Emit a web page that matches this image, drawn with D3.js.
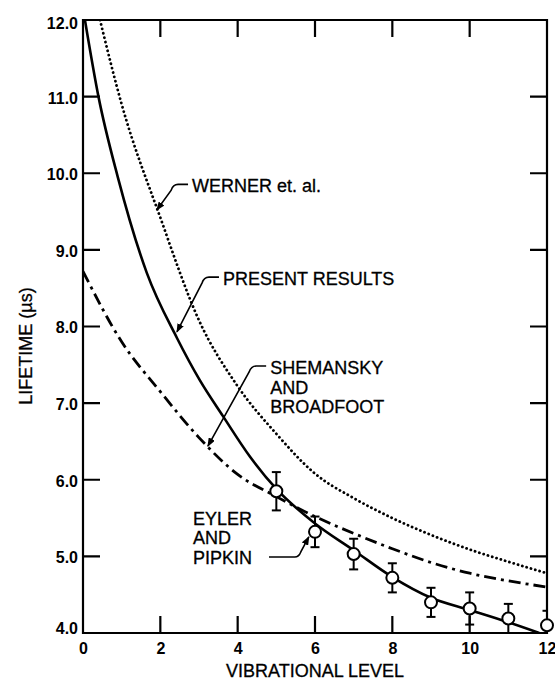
<!DOCTYPE html>
<html>
<head>
<meta charset="utf-8">
<script src="https://cdn.jsdelivr.net/npm/d3@7"></script>
<style>
  body { margin: 0; background: #fff; }
  svg { display: block; font-family: "Liberation Sans", Arial, sans-serif; }
</style>
</head>
<body>
<svg id="chart" width="555" height="683"></svg>
<script>
// values: vibrational level (x) vs lifetime in microseconds (y)
const presentLevels = [0.05, 0.4, 0.9, 1.65, 2.43, 3.02, 3.62, 4.32, 5, 6, 7, 8, 9, 10, 11, 11.8];
const presentLifetimes = [12.0, 11.0, 9.95, 8.7, 7.85, 7.3, 6.83, 6.3, 5.88, 5.43, 5.08, 4.73, 4.46, 4.30, 4.14, 4.0];

const wernerLevels = [0.44, 1, 2, 3, 4, 5, 6, 7, 8, 9, 10, 11, 12];
const wernerLifetimes = [12.0, 10.9, 9.42, 8.08, 7.22, 6.6, 6.08, 5.76, 5.5, 5.28, 5.09, 4.93, 4.78];

const shemanskyLevels = [0, 1, 2, 3, 4, 5, 6, 7, 8, 9, 10, 11, 12];
const shemanskyLifetimes = [8.72, 7.8, 7.15, 6.55, 6.07, 5.78, 5.52, 5.3, 5.1, 4.92, 4.78, 4.68, 4.6];

const eylerLevels = [5, 6, 7, 8, 9, 10, 11, 12];
const eylerLifetimes = [5.85, 5.32, 5.03, 4.72, 4.40, 4.32, 4.19, 4.10];
const eylerErrors = [0.25, 0.2, 0.2, 0.19, 0.19, 0.21, 0.19, 0.19];

const xTicks = [0, 2, 4, 6, 8, 10, 12];
const yTicks = [4, 5, 6, 7, 8, 9, 10, 11, 12];

const svg = d3.select("#chart");
const plotLeft = 83, plotRight = 547, plotTop = 20, plotBottom = 633;
const tickLen = 17;

const x = d3.scaleLinear().domain([0, 12]).range([plotLeft, plotRight]);
const y = d3.scaleLinear().domain([4, 12]).range([plotBottom, plotTop]);

const defs = svg.append("defs");
defs.append("clipPath").attr("id", "plot")
  .append("rect").attr("x", plotLeft).attr("y", plotTop)
  .attr("width", plotRight - plotLeft).attr("height", plotBottom - plotTop);

const marker = defs.append("marker")
  .attr("id", "arrow")
  .attr("markerUnits", "userSpaceOnUse")
  .attr("markerWidth", 9).attr("markerHeight", 7)
  .attr("refX", 8).attr("refY", 3.5)
  .attr("orient", "auto");
marker.append("path").attr("d", "M0,0 L9,3.5 L0,7 Z").attr("fill", "#000");

// --> axis labels (d3 axes); tick marks drawn inward on all four sides below
function styleAxis(g) {
  g.select(".domain").remove();
  g.selectAll(".tick line").remove();
  g.selectAll(".tick text").attr("fill", "#000")
    .attr("font-size", 16).attr("font-weight", "bold")
    .attr("font-family", "'Liberation Sans', Arial, sans-serif");
}

svg.append("g")
  .attr("transform", `translate(0,${plotBottom})`)
  .call(d3.axisBottom(x).tickValues(xTicks).tickSize(0).tickPadding(10).tickFormat(d3.format("d")))
  .call(styleAxis);

const yAxis = svg.append("g")
  .attr("transform", `translate(${plotLeft},0)`)
  .call(d3.axisLeft(y).tickValues(yTicks).tickSize(0).tickPadding(5).tickFormat(d3.format(".1f")))
  .call(styleAxis);
yAxis.selectAll(".tick text").attr("dy", d => d === 4 ? "0em" : d === 12 ? "0.5em" : "0.4em");

// frame and ticks in one path
const frame = d3.path();
frame.rect(plotLeft, plotTop, plotRight - plotLeft, plotBottom - plotTop);
xTicks.forEach(d => {
  frame.moveTo(x(d), plotBottom); frame.lineTo(x(d), plotBottom - tickLen);
  frame.moveTo(x(d), plotTop); frame.lineTo(x(d), plotTop + tickLen);
});
yTicks.forEach(d => {
  frame.moveTo(plotLeft, y(d)); frame.lineTo(plotLeft + tickLen, y(d));
  frame.moveTo(plotRight, y(d)); frame.lineTo(plotRight - tickLen, y(d));
});
svg.append("path")
  .attr("d", frame.toString())
  .attr("fill", "none").attr("stroke", "#000").attr("stroke-width", 2.2);

// axis titles
svg.append("text")
  .attr("x", (plotLeft + plotRight) / 2).attr("y", 677)
  .attr("text-anchor", "middle").attr("font-size", 18)
  .attr("stroke", "#000").attr("stroke-width", 0.3)
  .text("VIBRATIONAL LEVEL");

svg.append("text")
  .attr("transform", "translate(32,346) rotate(-90)")
  .attr("text-anchor", "middle").attr("font-size", 18)
  .attr("stroke", "#000").attr("stroke-width", 0.3)
  .text("LIFETIME (\u00b5s)");

// --> curves
const line = d3.line().x(d => x(d[0])).y(d => y(d[1])).curve(d3.curveMonotoneX);
const curves = svg.append("g").attr("clip-path", "url(#plot)").attr("fill", "none").attr("stroke", "#000");

curves.append("path")
  .attr("d", line(d3.zip(wernerLevels, wernerLifetimes)))
  .attr("stroke-width", 2.8).attr("stroke-linecap", "round")
  .attr("stroke-dasharray", "0.1 4.4");

curves.append("path")
  .attr("d", line(d3.zip(shemanskyLevels, shemanskyLifetimes)))
  .attr("stroke-width", 2.8)
  .attr("stroke-dasharray", "12 5 3 5");

curves.append("path")
  .attr("d", line(d3.zip(presentLevels, presentLifetimes)))
  .attr("stroke-width", 2.6);

// --> Eyler and Pipkin points with error bars
const pts = eylerLevels.map((v, i) => ({ v: v, t: eylerLifetimes[i], e: eylerErrors[i] }));
const bars = svg.append("g").attr("clip-path", "url(#plot)").attr("stroke", "#000").attr("stroke-width", 2);
bars.selectAll("line.bar").data(pts).enter().append("line")
  .attr("class", "bar")
  .attr("x1", d => x(d.v)).attr("x2", d => x(d.v))
  .attr("y1", d => y(d.t + d.e)).attr("y2", d => y(d.t - d.e));
bars.selectAll("line.capTop").data(pts).enter().append("line")
  .attr("class", "capTop")
  .attr("x1", d => x(d.v) - 4.5).attr("x2", d => x(d.v) + 4.5)
  .attr("y1", d => y(d.t + d.e)).attr("y2", d => y(d.t + d.e));
bars.selectAll("line.capBot").data(pts).enter().append("line")
  .attr("class", "capBot")
  .attr("x1", d => x(d.v) - 4.5).attr("x2", d => x(d.v) + 4.5)
  .attr("y1", d => y(d.t - d.e)).attr("y2", d => y(d.t - d.e));

svg.selectAll("circle.pt").data(pts).enter().append("circle")
  .attr("class", "pt")
  .attr("cx", d => x(d.v)).attr("cy", d => y(d.t)).attr("r", 6)
  .attr("fill", "#fff").attr("stroke", "#000").attr("stroke-width", 2);

// --> labels with leader arrows
const notes = [
  { lines: ["WERNER et. al."], at: [2.82, 9.75], tip: [1.91, 9.52], side: "left" },
  { lines: ["PRESENT RESULTS"], at: [3.62, 8.54], tip: [2.43, 7.93], side: "left" },
  { lines: ["SHEMANSKY", "AND", "BROADFOOT"], at: [4.84, 7.38], tip: [3.23, 6.44], side: "left" },
  { lines: ["EYLER", "AND", "PIPKIN"], at: [2.845, 5.41], tip: [5.84, 5.253], side: "right" }
];

notes.forEach(n => {
  const lx = x(n.at[0]), ly = y(n.at[1]);
  const t = svg.append("text").attr("x", lx).attr("y", ly).attr("font-size", 18)
    .attr("stroke", "#000").attr("stroke-width", 0.3);
  n.lines.forEach((s, i) => {
    t.append("tspan").attr("x", lx).attr("dy", i === 0 ? 0 : 19.5).text(s);
  });
  const tx = x(n.tip[0]), ty = y(n.tip[1]);
  const p = d3.path();
  if (n.side === "left") {
    const y0 = ly - 8;
    p.moveTo(lx - 4, y0);
    p.lineTo(lx - 14, y0);
    p.quadraticCurveTo(lx - 19, y0, lx - 21, y0 + 6);
    p.lineTo(tx, ty);
  } else {
    const last = ly + 19.5 * (n.lines.length - 1);
    const y0 = last - 7;
    const x0 = lx + 76;
    p.moveTo(x0, y0);
    p.lineTo(tx - 14, y0);
    p.quadraticCurveTo(tx - 10, y0, tx - 8, y0 - 5);
    p.lineTo(tx, ty);
  }
  svg.append("path").attr("d", p.toString())
    .attr("fill", "none").attr("stroke", "#000").attr("stroke-width", 1.6)
    .attr("marker-end", "url(#arrow)");
});
</script>
</body>
</html>
